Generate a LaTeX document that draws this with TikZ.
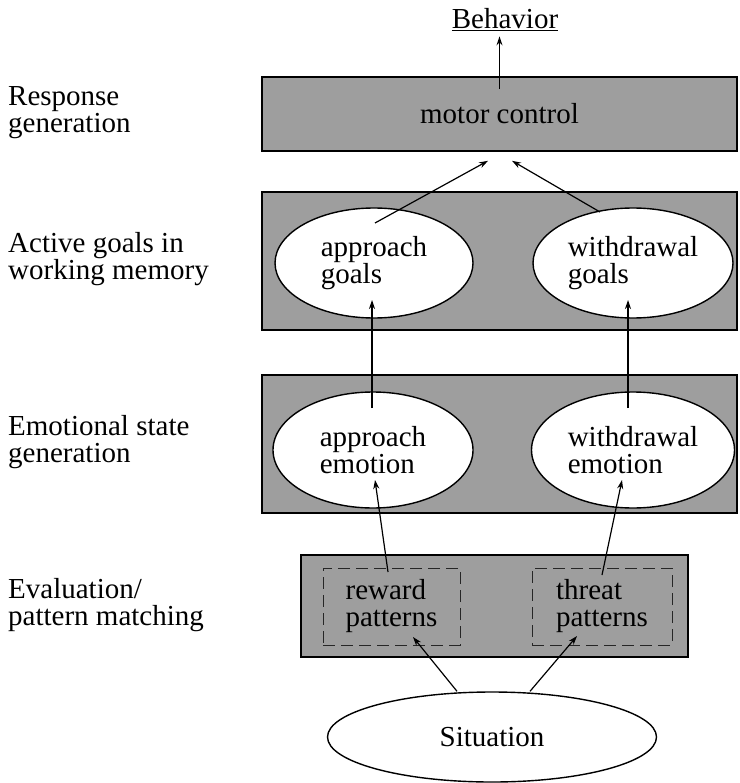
\documentclass[tikz,border=0pt]{standalone}
\usepackage{fontspec}
\setmainfont{Liberation Serif}
\usetikzlibrary{arrows.meta,calc,shapes.geometric}
\begin{document}
\begin{tikzpicture}[x=1pt,y=-1pt,
  every node/.style={font=\fontsize{29}{27}\selectfont, inner sep=0pt},
  layer/.style={draw=black, line width=1.6pt, fill=black!38, rectangle},
  oval/.style={draw=black, line width=1.4pt, fill=white, ellipse, align=left},
  pat/.style={draw=black!85, line width=1pt, dash pattern=on 12pt off 6pt, rectangle, align=left},
  lbl/.style={anchor=west, align=left},
  arr/.style={line width=1.2pt, -{Stealth[length=9pt,width=6pt]}}
]
\useasboundingbox (0,0) rectangle (739,783);

% layers
\node[layer, minimum width=475pt, minimum height=74pt] (motor) at (499.5,114) {motor control};
\node (beh) at (505,20) {\underline{Behavior}};
\node[layer, minimum width=475pt, minimum height=138pt] (goals) at (499.5,261) {};
\node[oval, minimum width=198pt, minimum height=110pt] (ag) at (374,263) {approach\\goals};
\node[oval, minimum width=200pt, minimum height=110pt] (wg) at (633,263) {withdrawal\\goals};
\node[layer, minimum width=475pt, minimum height=138pt] (emo) at (499.5,444) {};
\node[oval, minimum width=200pt, minimum height=116pt] (ae) at (373,450) {approach\\emotion};
\node[oval, minimum width=203pt, minimum height=116pt] (we) at (633,450) {withdrawal\\emotion};
\node[layer, minimum width=387pt, minimum height=102pt] (eval) at (494.5,606) {};
\node[pat, minimum width=137pt, minimum height=77pt] (rew) at (391.5,606.5) {reward\\patterns};
\node[pat, minimum width=140pt, minimum height=77pt] (thr) at (602,606.5) {threat\\patterns};
\node[oval, minimum width=329pt, minimum height=90pt] (sit) at (492,737) {Situation};

% left labels
\node[lbl] (l1) at (8,113) {Response\\generation};
\node[lbl] (l2) at (8,259) {Active goals in\\working memory};
\node[lbl] (l3) at (8,442) {Emotional state\\generation};
\node[lbl] (l4) at (8,605) {Evaluation/\\pattern matching};

% connectors
\draw[arr, shorten >=5pt] ($(motor.north)+(0,13)$) -- (motor.north |- beh.south);
\coordinate (mL) at ($(motor.south)+(-11.5,9)$);
\coordinate (mR) at ($(motor.south)+(12.5,9)$);
\draw[arr] ($(ag.center)+(1,-40)$) -- (mL);
\draw[arr] ($(wg.center)+(-33,-51)$) -- (mR);
\draw[arr] ($(ae.center)+(-1,-42)$) -- ($(ag.center)+(-2,37)$);
\draw[arr] ($(we.center)+(-5,-42)$) -- ($(wg.center)+(-5,37)$);
\draw[arr] ($(rew.center)+(-3.5,-34.5)$) -- ($(ae.center)+(2,30)$);
\draw[arr] ($(thr.center)+(0,-31.5)$) -- ($(we.center)+(-11,30)$);
\draw[arr] ($(sit.north)+(-35,0)$) -- ($(rew.center)+(21.5,30.5)$);
\draw[arr] ($(sit.north)+(38,0)$) -- ($(thr.center)+(-25,29.5)$);
\end{tikzpicture}
\end{document}
